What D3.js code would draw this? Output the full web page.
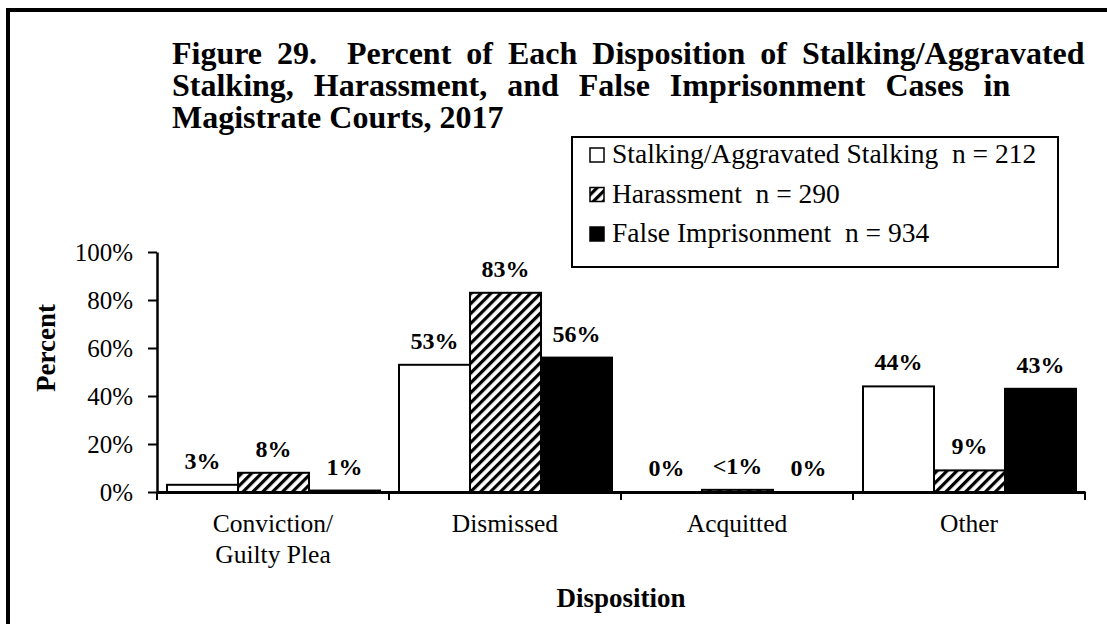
<!DOCTYPE html>
<html>
<head>
<meta charset="utf-8">
<script src="https://cdn.jsdelivr.net/npm/d3@7"></script>
<style>
  body { margin: 0; background: #fff; }
  svg { font-family: "Liberation Serif", "Times New Roman", serif; }
</style>
</head>
<body>
<svg id="chart" width="1107" height="624"></svg>
<script>
const categories = ["Conviction/\nGuilty Plea", "Dismissed", "Acquitted", "Other"];
const series = ["Stalking/Aggravated Stalking", "Harassment", "False Imprisonment"];
const seriesN = [212, 290, 934];
const stalking = [3, 53, 0, 44];
const harassment = [8, 83, 0.9, 9];
const falseImp = [0.6, 56, 0, 43];
const labels = [
  ["3%", "53%", "0%", "44%"],
  ["8%", "83%", "<1%", "9%"],
  ["1%", "56%", "0%", "43%"]
];
const yTicks = [0, 20, 40, 60, 80, 100];
const titleLines = [
  "Figure 29.  Percent of Each Disposition of Stalking/Aggravated",
  "Stalking, Harassment, and False Imprisonment Cases in",
  "Magistrate Courts, 2017"
];

const svg = d3.select("#chart");
const values = [stalking, harassment, falseImp];
const fills = ["#fff", "url(#hatch)", "#000"];
const serif = "Liberation Serif, Times New Roman, serif";

const margin = {top: 252, left: 157, bottom: 132, right: 22};
const width = +svg.attr("width");
const height = +svg.attr("height");

svg.append("rect").attr("width", width).attr("height", height).attr("fill", "#fff");

const defs = svg.append("defs");
const pat = defs.append("pattern")
    .attr("id", "hatch")
    .attr("patternUnits", "userSpaceOnUse")
    .attr("width", 7)
    .attr("height", 7)
    .attr("patternTransform", "rotate(45)");
pat.append("rect").attr("width", 7).attr("height", 7).attr("fill", "#fff");
pat.append("rect").attr("x", 0).attr("width", 3.2).attr("height", 7).attr("fill", "#000");

// outer frame (right and bottom edges run off the page)
svg.append("rect")
    .attr("x", 8).attr("y", 10)
    .attr("width", 1200).attr("height", 700)
    .attr("fill", "none").attr("stroke", "#000").attr("stroke-width", 4);

const x0 = d3.scaleBand()
    .domain(categories)
    .range([margin.left, width - margin.right]);

const x1 = d3.scaleBand()
    .domain(series)
    .range([10, x0.bandwidth() - 9]);

const y = d3.scaleLinear()
    .domain([0, 100])
    .range([height - margin.bottom, margin.top]);

// title, justified lines like the original (last line left as is)
const wordGap = [7, 12, 0];
const title = svg.append("text")
    .attr("x", 172).attr("y", 64)
    .attr("font-weight", "bold")
    .attr("font-size", "32px")
    .style("white-space", "pre");
titleLines.forEach((t, i) => {
    title.append("tspan")
        .attr("x", 172).attr("dy", i ? 32 : 0)
        .style("word-spacing", wordGap[i] + "px")
        .text(t);
});

// bars
const group = svg.selectAll("g.layer")
    .data(series)
    .enter().append("g")
    .attr("class", "layer");

group.selectAll("rect")
    .data((s, si) => categories.map((c, ci) => ({s, si, c, v: values[si][ci]})))
    .enter().append("rect")
    .attr("x", d => x0(d.c) + x1(d.s))
    .attr("y", d => y(d.v))
    .attr("width", x1.bandwidth())
    .attr("height", d => y(0) - y(d.v))
    .attr("fill", d => fills[d.si])
    .attr("stroke", "#000")
    .attr("stroke-width", d => d.v > 0 ? 2 : 0);

group.selectAll("text")
    .data((s, si) => categories.map((c, ci) => ({s, si, c, v: values[si][ci], l: labels[si][ci]})))
    .enter().append("text")
    .attr("x", d => x0(d.c) + x1(d.s) + x1.bandwidth() / 2)
    .attr("y", d => y(d.v) - 16)
    .attr("text-anchor", "middle")
    .attr("font-weight", "bold")
    .attr("font-size", "24px")
    .text(d => d.l);

// y axis
const yAxis = svg.append("g")
    .attr("transform", `translate(${margin.left},0)`)
    .call(d3.axisLeft(y).tickValues(yTicks).tickFormat(d => d + "%")
        .tickSize(9).tickSizeOuter(0).tickPadding(15))
    .attr("font-family", serif);
yAxis.select(".domain").attr("stroke-width", 2.5);
yAxis.selectAll(".tick line").attr("stroke-width", 2);
yAxis.selectAll(".tick text").attr("font-size", "25px").attr("fill", "#000");

// x axis
const xAxis = svg.append("g")
    .attr("transform", `translate(0,${y(0)})`)
    .call(d3.axisBottom(x0).tickSize(0).tickPadding(0).tickFormat(""))
    .attr("font-family", serif);
xAxis.select(".domain").attr("stroke-width", 3);
xAxis.selectAll(".tick").remove();

const bounds = categories.map(c => x0(c)).concat([x0.range()[1]]);
xAxis.selectAll("line.sep")
    .data(bounds)
    .enter().append("line")
    .attr("class", "sep")
    .attr("x1", d => d).attr("x2", d => d)
    .attr("y1", 0).attr("y2", 8)
    .attr("stroke", "#000").attr("stroke-width", 2);

const xl = xAxis.selectAll("text.cat")
    .data(categories)
    .enter().append("text")
    .attr("class", "cat")
    .attr("x", d => x0(d) + x0.bandwidth() / 2)
    .attr("y", 40)
    .attr("text-anchor", "middle")
    .attr("font-size", "25.5px")
    .attr("fill", "#000");
xl.each(function(d) {
    d.split("\n").forEach((t, i) => {
        d3.select(this).append("tspan")
            .attr("x", x0(d) + x0.bandwidth() / 2)
            .attr("dy", i ? 31 : 0)
            .text(t);
    });
});

// axis titles
svg.append("text")
    .attr("transform", `translate(55,348) rotate(-90)`)
    .attr("text-anchor", "middle")
    .attr("font-weight", "bold")
    .attr("font-size", "27px")
    .text("Percent");

svg.append("text")
    .attr("x", x0.range()[0] + (x0.range()[1] - x0.range()[0]) / 2)
    .attr("y", 607)
    .attr("text-anchor", "middle")
    .attr("font-weight", "bold")
    .attr("font-size", "27px")
    .text("Disposition");

// legend
const legendBox = svg.append("g").attr("transform", "translate(572,137)");
legendBox.append("rect")
    .attr("width", 486).attr("height", 130)
    .attr("fill", "#fff").attr("stroke", "#000").attr("stroke-width", 2);

const legend = legendBox.selectAll(".legend")
    .data(series)
    .enter().append("g")
    .attr("class", "legend")
    .attr("transform", (d, i) => `translate(18,${26 + i * 39.5})`);

legend.append("rect")
    .attr("x", 0).attr("y", -15)
    .attr("width", 14).attr("height", 14)
    .attr("fill", (d, i) => fills[i])
    .attr("stroke", "#000").attr("stroke-width", 1.5);

legend.append("text")
    .attr("x", 22)
    .attr("y", 0)
    .attr("font-size", "27.5px")
    .style("white-space", "pre")
    .text((d, i) => `${d}  n = ${seriesN[i]}`);
</script>
</body>
</html>
